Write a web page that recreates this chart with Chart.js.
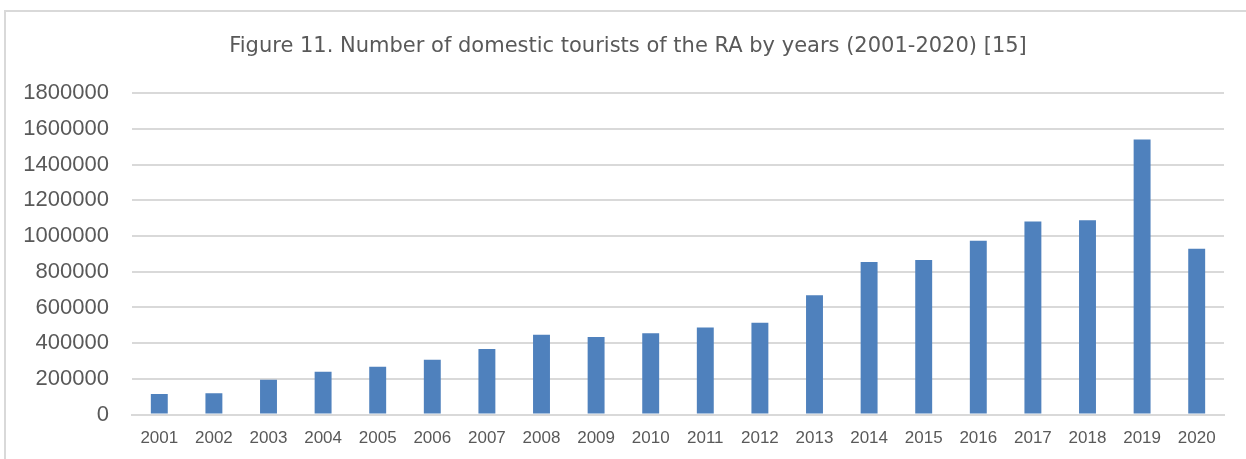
<!DOCTYPE html>
<html>
<head>
<meta charset="utf-8">
<script src="https://cdn.jsdelivr.net/npm/chart.js@4/dist/chart.umd.min.js"></script>
<style>
html,body{margin:0;padding:0;background:#fff;}
#wrap{width:1246px;height:459px;position:relative;}
</style>
</head>
<body>
<div id="wrap"><canvas id="c" width="1246" height="459"></canvas></div>
<script>
const titleText = "Figure 11. Number of domestic tourists of the RA by years (2001-2020) [15]";
const years = ["2001","2002","2003","2004","2005","2006","2007","2008","2009","2010","2011","2012","2013","2014","2015","2016","2017","2018","2019","2020"];
const tourists = [116000,119000,195000,240000,268000,307000,368000,447000,434000,456000,488000,514000,669000,855000,866000,974000,1082000,1089000,1540000,929000];
const yMin = 0, yMax = 1800000, yStep = 200000;

const frame = {
  id: 'frame',
  beforeDraw(chart) {
    const ctx = chart.ctx;
    ctx.save();
    ctx.fillStyle = '#fff';
    ctx.fillRect(0,0,chart.width,chart.height);
    ctx.strokeStyle = '#d9d9d9';
    ctx.lineWidth = 2;
    ctx.beginPath();
    ctx.moveTo(5, chart.height);
    ctx.lineTo(5, 11);
    ctx.lineTo(chart.width, 11);
    ctx.stroke();
    ctx.restore();
  },
  afterLayout(chart) {
    const t = chart.titleBlock;
    if (t) { t.left += 16; t.right += 16; }
  }
};

new Chart(document.getElementById('c'), {
  type: 'bar',
  data: {
    labels: years,
    datasets: [{
      data: tourists,
      backgroundColor: '#4f81bd',
      barPercentage: 0.31,
      categoryPercentage: 1.0
    }]
  },
  options: {
    responsive: false,
    animation: false,
    layout: { padding: { left: 0, right: 22, top: 0, bottom: -4 } },
    plugins: {
      legend: { display: false },
      tooltip: { enabled: false },
      title: {
        display: true,
        text: titleText,
        color: '#595959',
        font: { family: 'DejaVu Sans', size: 21, weight: 'normal' },
        padding: { top: 34, bottom: 34 }
      }
    },
    scales: {
      x: {
        grid: { display: false, drawTicks: false },
        border: { display: true, color: '#d9d9d9', width: 2 },
        ticks: { color: '#595959', font: { family: 'Liberation Sans', size: 17 }, padding: 14, maxRotation: 0 }
      },
      y: {
        min: yMin, max: yMax,
        afterFit: s => { s.width = 132; },
        grid: { color: '#d9d9d9', lineWidth: 2, drawTicks: false },
        border: { display: false },
        ticks: { stepSize: yStep, color: '#595959', font: { family: 'Liberation Sans', size: 22 }, padding: 23,
          callback: v => String(v) }
      }
    }
  },
  plugins: [frame]
});
</script>
</body>
</html>
